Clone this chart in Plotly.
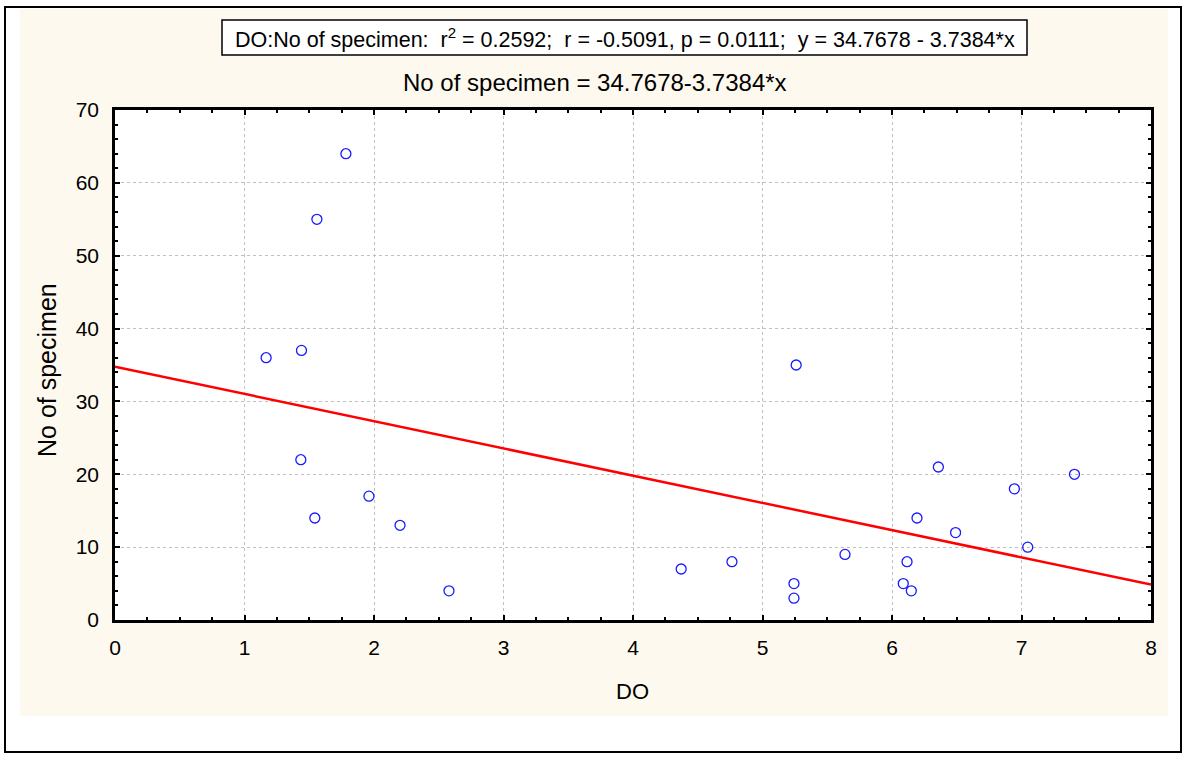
import plotly.graph_objects as go

# ---- data ----
do_values = [1.167, 1.44, 1.783, 1.559, 1.435, 1.543, 1.961, 2.201, 2.579,
             4.372, 4.764, 5.243, 5.243, 5.26, 5.637, 6.087, 6.149, 6.116,
             6.193, 6.358, 6.491, 6.945, 7.048, 7.409]
specimens = [36, 37, 64, 55, 22, 14, 17, 13, 4,
             7, 8, 5, 3, 35, 9, 5, 4, 8,
             14, 21, 12, 18, 10, 20]
intercept = 34.7678
slope = -3.7384
x_range = [0, 8]
y_range = [0, 70]
x_ticks = [0, 1, 2, 3, 4, 5, 6, 7, 8]
y_ticks = [0, 10, 20, 30, 40, 50, 60, 70]
NB = "\u00a0"
box_text = ("DO:No of specimen:" + NB * 2 + "r<sup>2</sup> = 0.2592;" + NB * 2 +
            "r = -0.5091, p = 0.0111;" + NB * 2 + "y = 34.7678 - 3.7384*x")
subtitle = "No of specimen = 34.7678-3.7384*x"
x_title = "DO"
y_title = "No of specimen"

W, H = 1186, 758
L, R, T, B = 115, 35, 110, 138
PW, PH = W - L - R, H - T - B

def px(x):
    return (x - L) / PW

def py(y):
    return (H - B - y) / PH

FONT = "Liberation Sans, Arial, sans-serif"

fig = go.Figure()
fig.add_trace(go.Scatter(
    x=x_range, y=[intercept + slope * v for v in x_range],
    mode="lines", line=dict(color="#ff0000", width=2.5),
    showlegend=False, hoverinfo="skip"))
fig.add_trace(go.Scatter(
    x=do_values, y=specimens, mode="markers",
    marker=dict(symbol="circle-open", size=10, color="#1a1aff",
                line=dict(width=1.3, color="#1a1aff")),
    showlegend=False))

axis_common = dict(
    showline=True, linecolor="black", linewidth=2.5, mirror="allticks",
    ticks="inside", ticklen=5, tickwidth=2, tickcolor="black",
    showgrid=True, gridcolor="#c0c0c0", griddash="dot", gridwidth=1,
    zeroline=False, tickfont=dict(family=FONT, size=21, color="black"),
)
fig.update_xaxes(range=x_range, tickvals=x_ticks, ticklabelstandoff=7,
                 minor=dict(dtick=0.25, ticks="inside", ticklen=3,
                            tickcolor="black", tickwidth=1.5, showgrid=False),
                 **axis_common)
fig.update_yaxes(range=y_range, tickvals=y_ticks, ticklabelstandoff=9,
                 minor=dict(dtick=2, ticks="inside", ticklen=3,
                            tickcolor="black", tickwidth=1.5, showgrid=False),
                 **axis_common)

shapes = [
    dict(type="rect", xref="paper", yref="paper", x0=px(20), x1=px(1168),
         y0=py(9), y1=py(716), fillcolor="#fef9ee", line=dict(width=0),
         layer="below"),
    dict(type="rect", xref="paper", yref="paper", x0=0, x1=1, y0=0, y1=1,
         fillcolor="white", line=dict(width=0), layer="below"),
    dict(type="rect", xref="paper", yref="paper", x0=px(5), x1=px(1181),
         y0=py(7), y1=py(752), fillcolor="rgba(0,0,0,0)",
         line=dict(color="black", width=2), layer="above"),
    dict(type="rect", xref="paper", yref="paper", x0=px(222), x1=px(1027),
         y0=py(20), y1=py(55), fillcolor="white",
         line=dict(color="black", width=1.5), layer="above"),
]

annotations = [
    dict(text=box_text, xref="paper", yref="paper", x=px(625), y=py(38),
         showarrow=False, xanchor="center", yanchor="middle",
         font=dict(family=FONT, size=21.5, color="black")),
    dict(text=subtitle, xref="paper", yref="paper", x=px(595), y=py(83),
         showarrow=False, xanchor="center", yanchor="middle",
         font=dict(family=FONT, size=24, color="black")),
    dict(text=x_title, xref="paper", yref="paper", x=px(632), y=py(691),
         showarrow=False, xanchor="center", yanchor="middle",
         font=dict(family=FONT, size=22, color="black")),
    dict(text=y_title, xref="paper", yref="paper", x=px(47), y=py(370),
         showarrow=False, xanchor="center", yanchor="middle", textangle=-90,
         font=dict(family=FONT, size=25, color="black")),
]

fig.update_layout(
    width=W, height=H, margin=dict(l=L, r=R, t=T, b=B, pad=0),
    paper_bgcolor="white", plot_bgcolor="white",
    shapes=shapes, annotations=annotations,
)

fig.write_html("out.html", config={"displayModeBar": False},
               post_script="document.body.style.margin='0px';")
